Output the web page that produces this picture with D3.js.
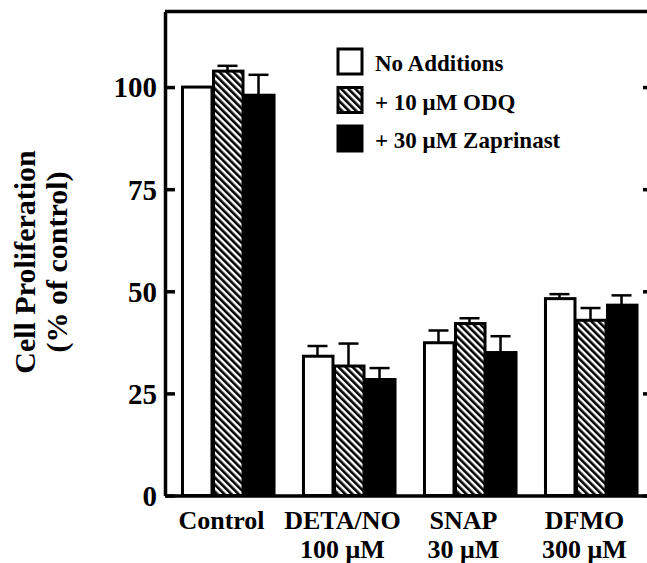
<!DOCTYPE html>
<html>
<head>
<meta charset="utf-8">
<script src="https://cdn.jsdelivr.net/npm/d3@7"></script>
<style>
  body { margin: 0; background: #fff; }
  text { font-family: "Liberation Serif", "Times New Roman", serif; font-weight: bold; fill: #000; }
</style>
</head>
<body>
<div id="chart"></div>
<script>
// data
var groups = ["Control", "DETA/NO", "SNAP", "DFMO"];
var doses = ["", "100 \u03bcM", "30 \u03bcM", "300 \u03bcM"];
var series = ["No Additions", "+ 10 \u03bcM ODQ", "+ 30 \u03bcM Zaprinast"];
var noAdditions = [100, 34.1, 37.4, 48.2];
var odq = [103.9, 31.7, 42.1, 42.9];
var zaprinast = [98.0, 28.4, 35.0, 46.6];
var errNoAdd = [0, 2.5, 3.0, 1.1];
var errOdq = [1.3, 5.5, 1.3, 3.0];
var errZap = [5.0, 2.8, 4.0, 2.4];
var yTicks = [0, 25, 50, 75, 100];

var width = 647, height = 563;
var plotL = 165, plotR = 653, plotT = 11.5, plotB = 495.5;

var svg = d3.select("#chart").append("svg")
    .attr("width", width)
    .attr("height", height);

// hatch for the ODQ series
svg.append("defs").append("pattern")
    .attr("id", "hatch")
    .attr("patternUnits", "userSpaceOnUse")
    .attr("width", 5)
    .attr("height", 5)
    .attr("patternTransform", "rotate(-45)")
    .append("rect")
    .attr("width", 2.6)
    .attr("height", 5)
    .attr("fill", "#000");

var fills = ["#fff", "url(#hatch)", "#000"];

var rows = groups.map(function(g, i) {
    return [
        {s: 0, v: noAdditions[i], e: errNoAdd[i]},
        {s: 1, v: odq[i], e: errOdq[i]},
        {s: 2, v: zaprinast[i], e: errZap[i]}
    ];
});

var x0 = d3.scaleBand()
    .domain(groups)
    .range([plotL, plotR])
    .paddingInner(0.231)
    .paddingOuter(0.132);

var x1 = d3.scaleBand()
    .domain([0, 1, 2])
    .range([0, x0.bandwidth()]);

var y = d3.scaleLinear()
    .domain([0, 118.5])
    .range([plotB, plotT]);

// bars
var g = svg.selectAll(".grp")
    .data(rows)
    .enter().append("g")
    .attr("class", "grp")
    .attr("transform", function(d, i) { return "translate(" + x0(groups[i]) + ",0)"; });

g.selectAll("line.err")
    .data(function(d) { return d.filter(function(b) { return b.e > 0; }); })
    .enter().append("line")
    .attr("class", "err")
    .attr("x1", function(d) { return x1(d.s) + x1.bandwidth() / 2; })
    .attr("x2", function(d) { return x1(d.s) + x1.bandwidth() / 2; })
    .attr("y1", function(d) { return y(d.v); })
    .attr("y2", function(d) { return y(d.v + d.e); })
    .attr("stroke", "#000")
    .attr("stroke-width", 2.5);

g.selectAll("line.cap")
    .data(function(d) { return d.filter(function(b) { return b.e > 0; }); })
    .enter().append("line")
    .attr("class", "cap")
    .attr("x1", function(d) { return x1(d.s) + x1.bandwidth() / 2 - 10; })
    .attr("x2", function(d) { return x1(d.s) + x1.bandwidth() / 2 + 10; })
    .attr("y1", function(d) { return y(d.v + d.e); })
    .attr("y2", function(d) { return y(d.v + d.e); })
    .attr("stroke", "#000")
    .attr("stroke-width", 2.5);

g.selectAll("rect")
    .data(function(d) { return d; })
    .enter().append("rect")
    .attr("x", function(d) { return x1(d.s) + 1.5; })
    .attr("width", x1.bandwidth() - 1.5)
    .attr("y", function(d) { return y(d.v); })
    .attr("height", function(d) { return y(0) - y(d.v); })
    .attr("fill", function(d) { return fills[d.s]; })
    .attr("stroke", "#000")
    .attr("stroke-width", 3);

// axes
var leftAxis = svg.append("g")
    .attr("transform", "translate(" + plotL + ",0)")
    .call(d3.axisLeft(y).tickValues(yTicks).tickSize(-10).tickSizeOuter(0).tickPadding(8));
leftAxis.selectAll("text").attr("font-size", 29).attr("dy", "0.34em");

var rightAxis = svg.append("g")
    .attr("transform", "translate(" + plotR + ",0)")
    .call(d3.axisRight(y).tickValues(yTicks).tickSize(-10).tickSizeOuter(0).tickFormat(""));

var botAxis = svg.append("g")
    .attr("transform", "translate(0," + plotB + ")")
    .call(d3.axisBottom(x0).tickSize(0).tickSizeOuter(0).tickFormat(""));
// two-line category labels
botAxis.selectAll(".tick").each(function(d, i) {
    var t = d3.select(this);
    t.selectAll("text").remove();
    t.append("text").attr("x", -6).attr("y", 33)
        .attr("text-anchor", "middle").attr("font-size", 26).text(groups[i]);
    if (doses[i]) {
        t.append("text").attr("x", -6).attr("y", 62)
            .attr("text-anchor", "middle").attr("font-size", 26).text(doses[i]);
    }
});

svg.append("line")
    .attr("x1", plotL).attr("x2", plotR)
    .attr("y1", plotT).attr("y2", plotT)
    .attr("stroke", "#000").attr("stroke-width", 3.5);

svg.selectAll(".domain, .tick line")
    .attr("stroke", "#000")
    .attr("stroke-width", 3.5);

// y label
svg.append("text")
    .attr("transform", "translate(35,262) rotate(-90)")
    .attr("text-anchor", "middle")
    .attr("font-size", 30)
    .text("Cell Proliferation");
svg.append("text")
    .attr("transform", "translate(67,262) rotate(-90)")
    .attr("text-anchor", "middle")
    .attr("font-size", 30)
    .text("(% of control)");

// legend
var legend = svg.selectAll(".leg")
    .data(series)
    .enter().append("g")
    .attr("class", "leg")
    .attr("transform", function(d, i) { return "translate(338," + (49 + i * 38.5) + ")"; });

legend.append("rect")
    .attr("width", 24)
    .attr("height", 25)
    .attr("fill", function(d, i) { return fills[i]; })
    .attr("stroke", "#000")
    .attr("stroke-width", 3);

legend.append("text")
    .attr("x", 37)
    .attr("y", 22)
    .attr("font-size", 23)
    .text(function(d) { return d; });
</script>
</body>
</html>
